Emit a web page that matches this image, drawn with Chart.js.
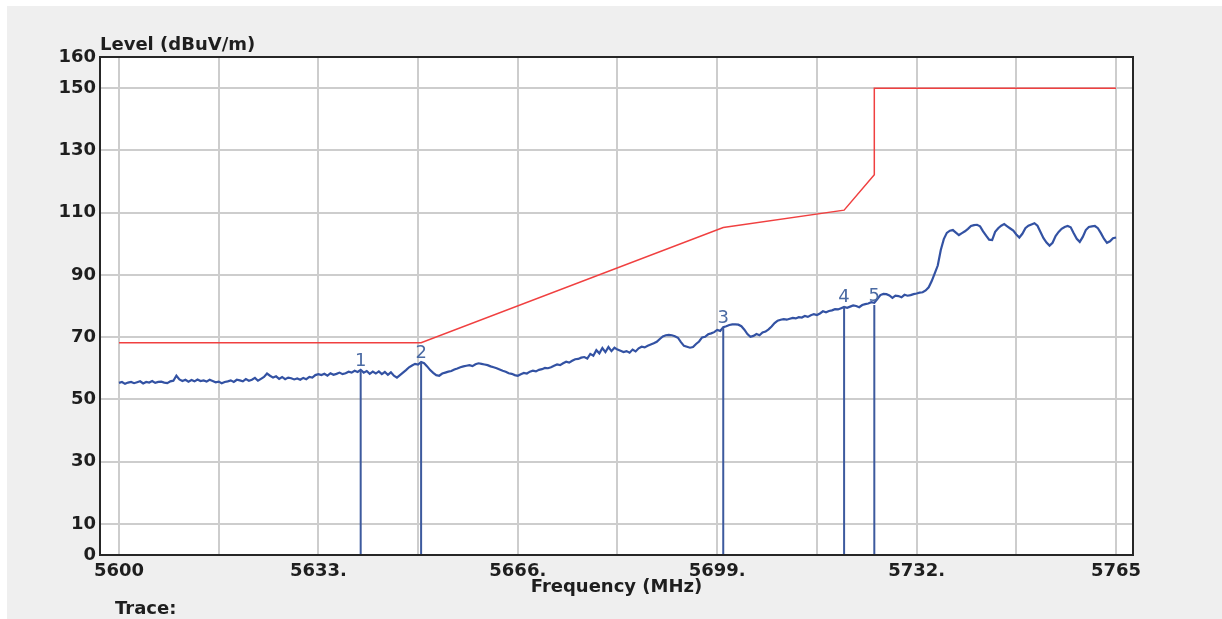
<!DOCTYPE html>
<html>
<head>
<meta charset="utf-8">
<script src="https://cdn.jsdelivr.net/npm/chart.js@4"></script>
<style>
  html, body { margin: 0; padding: 0; background: #ffffff; }
  #wrap { width: 1222px; height: 619px; }
</style>
</head>
<body>
<div id="wrap"><canvas id="myChart" width="1222" height="619"></canvas></div>
<script>
"use strict";

// x ticks (grid every 16.5 MHz, label every other one)
const xTickValues = [5600, 5616.5, 5633, 5649.5, 5666, 5682.5, 5699, 5715.5, 5732, 5748.5, 5765];
const xTickLabels = ["5600", "", "5633.", "", "5666.", "", "5699.", "", "5732.", "", "5765"];
const yTickValues = [0, 10, 30, 50, 70, 90, 110, 130, 150, 160];

// limit line (red)
const limitFreq = [5600, 5650, 5700, 5720, 5725, 5725, 5765];
const limitLevel = [68.2, 68.2, 105.2, 110.8, 122.2, 150, 150];

// measured trace (blue), 5600 .. 5765 MHz every 0.5 MHz
const traceStart = 5600;
const traceStep = 0.5;
const traceLevel = [
  55.3, 55.6, 55.0, 55.4, 55.6, 55.2, 55.5, 55.8, 55.1, 55.6, 55.4, 55.9, 55.3, 55.6, 55.7, 55.4, 55.2, 55.8, 56.0, 57.6,
  56.4, 55.9, 56.3, 55.7, 56.2, 55.8, 56.4, 55.9, 56.1, 55.7, 56.3, 55.9, 55.5, 55.7, 55.2, 55.6, 55.8, 56.1, 55.6, 56.3,
  56.1, 55.8, 56.5, 56.0, 56.3, 56.9, 56.0, 56.6, 57.2, 58.3, 57.6, 57.0, 57.4, 56.6, 57.2, 56.5, 57.0, 56.8, 56.4, 56.7,
  56.3, 56.9, 56.5, 57.2, 57.0, 57.8, 58.1, 57.8, 58.2, 57.6, 58.4, 57.9, 58.2, 58.6, 58.1, 58.4, 58.9, 58.6, 59.2, 58.8,
  59.5, 58.6, 59.1, 58.2, 58.9, 58.3, 59.0, 58.1, 58.8, 57.9, 58.7, 57.6, 57.0, 57.8, 58.6, 59.4, 60.3, 60.9, 61.4, 61.2,
  62.0, 61.6, 60.6, 59.4, 58.5, 57.8, 57.6, 58.3, 58.6, 58.9, 59.1, 59.6, 59.9, 60.3, 60.6, 60.8, 61.0, 60.7, 61.3, 61.6,
  61.4, 61.2, 61.0, 60.6, 60.3, 60.0, 59.6, 59.2, 58.9, 58.4, 58.2, 57.8, 57.6, 58.1, 58.5, 58.3, 58.9, 59.2, 59.0, 59.5,
  59.7, 60.1, 60.0, 60.3, 60.8, 61.2, 61.0, 61.6, 62.1, 61.8, 62.4, 62.9, 63.0, 63.4, 63.6, 63.1, 64.6, 64.0, 65.8, 64.8,
  66.5, 65.2, 66.8, 65.5, 66.6, 66.0, 65.6, 65.2, 65.5, 65.0, 66.0, 65.4, 66.4, 66.9, 66.7, 67.2, 67.6, 68.0, 68.5, 69.4,
  70.2, 70.6, 70.7, 70.6, 70.3, 69.8, 68.4, 67.2, 66.9, 66.6, 66.8, 67.8, 68.6, 69.9, 70.1, 70.9, 71.2, 71.6, 72.3, 72.0,
  73.2, 73.5, 73.9, 74.1, 74.1, 74.0, 73.5, 72.4, 71.0, 70.1, 70.4, 71.0, 70.6, 71.5, 71.8, 72.5, 73.4, 74.5, 75.3, 75.6,
  75.8, 75.6, 75.9, 76.2, 76.0, 76.4, 76.3, 76.8, 76.5, 77.0, 77.4, 77.1, 77.6, 78.3, 78.0, 78.4, 78.6, 79.0, 78.9, 79.3,
  79.7, 79.4, 79.8, 80.2, 80.0, 79.6, 80.3, 80.6, 80.8, 81.2, 81.0, 82.2, 83.5, 83.9, 83.8, 83.4, 82.6, 83.3, 83.2, 82.8,
  83.6, 83.3, 83.5, 83.8, 84.0, 84.3, 84.4, 85.0, 86.0, 88.0, 90.5, 93.0, 98.0, 101.5, 103.5, 104.2, 104.4, 103.6, 102.8, 103.4,
  104.0, 104.8, 105.7, 106.0, 106.1, 105.6, 104.0, 102.6, 101.3, 101.2, 103.8, 105.0, 105.8, 106.3, 105.6, 104.9, 104.2, 103.0, 102.0, 103.2,
  105.0, 105.8, 106.2, 106.6, 105.8, 103.8, 101.8, 100.4, 99.4, 100.3, 102.5, 103.8, 104.8, 105.4, 105.7, 105.3, 103.4, 101.6, 100.6, 102.2,
  104.4, 105.4, 105.6, 105.7, 105.0, 103.4, 101.6, 100.3, 100.8, 101.8, 102.0
];

// markers
const markerNames = ["1", "2", "3", "4", "5"];
const markerFreq = [5640, 5650, 5700, 5720, 5725];
const markerLevel = [59.3, 62.0, 73.2, 80.0, 80.3];

const axisFont = { family: "DejaVu Sans", size: 18, weight: "bold" };

function buildTrace() {
  const points = [];
  for (let i = 0; i < traceLevel.length; i++) {
    points.push({ x: traceStart + i * traceStep, y: traceLevel[i] });
  }
  return points;
}

function buildLimit() {
  return limitFreq.map((f, i) => ({ x: f, y: limitLevel[i] }));
}

function buildMarkers() {
  const points = [];
  for (let i = 0; i < markerFreq.length; i++) {
    points.push({ x: markerFreq[i], y: 0 });
    points.push({ x: markerFreq[i], y: markerLevel[i] });
    points.push({ x: markerFreq[i], y: null });
  }
  return points;
}

const backgroundPlugin = {
  id: "background",
  beforeDraw(chart) {
    const ctx = chart.ctx;
    const a = chart.chartArea;
    ctx.save();
    ctx.fillStyle = "#ffffff";
    ctx.fillRect(0, 0, chart.width, chart.height);
    ctx.fillStyle = "#efefef";
    ctx.fillRect(7, 6, chart.width - 7, chart.height - 6);
    ctx.fillStyle = "#ffffff";
    ctx.fillRect(a.left, a.top, a.right - a.left, a.bottom - a.top);
    ctx.restore();
  },
  afterDraw(chart) {
    const ctx = chart.ctx;
    const a = chart.chartArea;
    ctx.save();
    ctx.strokeStyle = "#262626";
    ctx.lineWidth = 2;
    ctx.strokeRect(a.left, a.top, a.right - a.left, a.bottom - a.top);

    ctx.fillStyle = "#1e1e1e";
    ctx.font = "bold 18px 'DejaVu Sans'";
    ctx.textBaseline = "middle";
    ctx.textAlign = "left";
    ctx.fillText("Level (dBuV/m)", a.left, 45);
    ctx.fillText("Trace:", 115, 609);
    ctx.textAlign = "center";
    ctx.fillText("Frequency (MHz)", (a.left + a.right) / 2, a.bottom + 32);
    ctx.restore();
  },
};

const markerLabelPlugin = {
  id: "markerLabels",
  afterDatasetsDraw(chart) {
    const ctx = chart.ctx;
    const xs = chart.scales.x;
    const ys = chart.scales.y;
    ctx.save();
    ctx.fillStyle = "#4a6aa3";
    ctx.font = "18px 'DejaVu Sans'";
    ctx.textAlign = "center";
    ctx.textBaseline = "alphabetic";
    for (let i = 0; i < markerNames.length; i++) {
      ctx.fillText(markerNames[i], xs.getPixelForValue(markerFreq[i]), ys.getPixelForValue(markerLevel[i]) - 4);
    }
    ctx.restore();
  },
};

const data = {
  datasets: [
    {
      label: "markers",
      data: buildMarkers(),
      borderColor: "#3d5a9e",
      borderWidth: 2,
      pointRadius: 0,
      spanGaps: false,
    },
    {
      label: "limit",
      data: buildLimit(),
      borderColor: "#f04040",
      borderWidth: 1.5,
      pointRadius: 0,
    },
    {
      label: "trace",
      data: buildTrace(),
      borderColor: "#3352a3",
      borderWidth: 2.2,
      pointRadius: 0,
    },
  ],
};

const config = {
  type: "line",
  data: data,
  options: {
    responsive: false,
    animation: false,
    events: [],
    layout: { padding: { top: 57, right: 89, left: 0, bottom: 0 } },
    plugins: { legend: { display: false }, tooltip: { enabled: false } },
    elements: { line: { tension: 0 } },
    scales: {
      x: {
        type: "linear",
        min: 5596.86,
        max: 5767.81,
        afterFit(scale) { scale.height = 64; },
        afterBuildTicks(scale) { scale.ticks = xTickValues.map((v) => ({ value: v })); },
        grid: { color: "#cdcdcd", lineWidth: 2, drawTicks: false },
        border: { display: false },
        ticks: {
          autoSkip: false,
          maxRotation: 0,
          padding: 6,
          color: "#1e1e1e",
          font: axisFont,
          callback: (value, index) => xTickLabels[index],
        },
      },
      y: {
        min: 0,
        max: 160,
        afterFit(scale) { scale.width = 100; },
        afterBuildTicks(scale) { scale.ticks = yTickValues.map((v) => ({ value: v })); },
        grid: {
          lineWidth: 2,
          drawTicks: false,
          color: (c) => (c.tick && (c.tick.value === 0 || c.tick.value === 160) ? "rgba(0,0,0,0)" : "#cdcdcd"),
        },
        border: { display: false },
        ticks: { padding: 4, color: "#1e1e1e", font: axisFont },
      },
    },
  },
  plugins: [backgroundPlugin, markerLabelPlugin],
};

const myChart = new Chart(document.getElementById("myChart"), config);
</script>
</body>
</html>
